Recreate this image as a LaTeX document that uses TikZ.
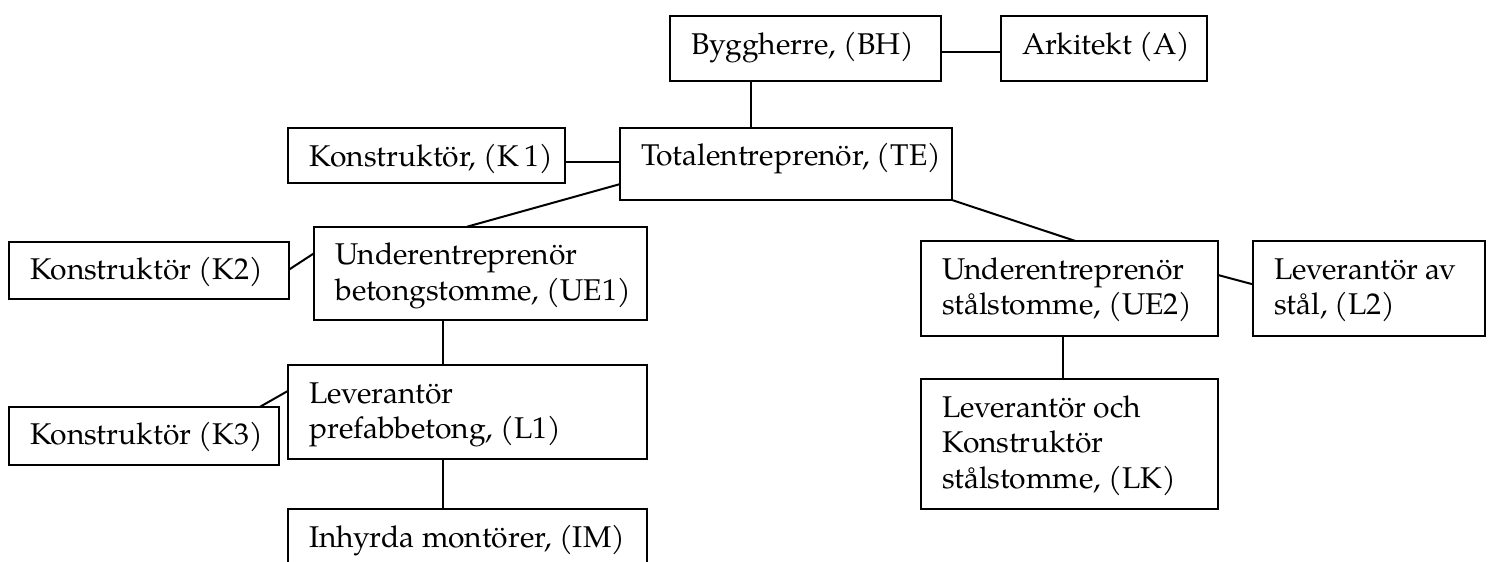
\documentclass[tikz,border=0pt]{standalone}
\usepackage{fontspec}
\setmainfont{TeX Gyre Pagella}
\usetikzlibrary{calc}
\newdimen\pxu \pxu=0.4pt
\tikzset{
  orgbox/.style={draw=black, line width=0.8pt, inner sep=0pt, outer sep=0pt,
    anchor=north west, font=\fontsize{12}{14.2}\selectfont},
  link/.style={draw=black, line width=0.8pt}
}
\newcommand\orgbox[6]{%
  \node[orgbox] (#1) at (#2,#3) {\begin{minipage}[c][#5\pxu][t]{#4\pxu}\raggedright\leftskip=21.5\pxu\rule{0pt}{38\pxu}#6\end{minipage}};}
\begin{document}
\begin{tikzpicture}[x=0.4pt, y=-0.4pt]
\clip (0,0) rectangle (1491,561);
\fill[white] (0,0) rectangle (1491,561);
\orgbox{BH}{670}{16}{271}{65}{Byggherre, (BH)}
\orgbox{A}{1000.7}{16}{206}{65}{Arkitekt (A)}
\orgbox{TE}{620}{127.7}{332}{72.3}{Totalentreprenör, (TE)}
\orgbox{K1}{288}{128.3}{277}{54.4}{Konstruktör, (K\,1)}
\orgbox{K2}{8.5}{241.7}{280}{57.6}{Konstruktör (K2)}
\orgbox{UE1}{314}{226.7}{332.7}{93.3}{Underentreprenör\\betongstomme, (UE1)}
\orgbox{L1}{287.7}{365}{359}{94}{Leverantör\\prefabbetong, (L1)}
\orgbox{K3}{8.5}{406.7}{270}{58.3}{Konstruktör (K3)}
\orgbox{IM}{287.7}{509.3}{359}{80}{Inhyrda montörer, (IM)}
\orgbox{UE2}{920.7}{241}{297.6}{94.7}{Underentreprenör\\stålstomme, (UE2)}
\orgbox{L2}{1252.7}{241}{232.3}{94.7}{Leverantör av\\stål, (L2)}
\orgbox{LK}{920.7}{379.3}{297.6}{129.7}{Leverantör och\\Konstruktör\\stålstomme, (LK)}
% connectors
\draw[link] ($(BH.north east)!0.56!(BH.south east)$) -- ($(A.north west)!0.56!(A.south west)$);
\coordinate (bhs) at ($(BH.south west)!0.298!(BH.south east)$);
\draw[link] (bhs) -- (bhs |- TE.north);
\coordinate (k1e) at ($(K1.north east)!0.614!(K1.south east)$);
\draw[link] (k1e) -- (k1e -| TE.west);
\draw[link] ($(TE.north west)!0.78!(TE.south west)$) -- ($(UE1.north west)!0.46!(UE1.north east)$);
\draw[link] (TE.south east) -- ($(UE2.north west)!0.52!(UE2.north east)$);
\draw[link] ($(K2.north east)!0.49!(K2.south east)$) -- ($(UE1.north west)!0.285!(UE1.south west)$);
\coordinate (ue1s) at ($(UE1.south west)!0.389!(UE1.south east)$);
\draw[link] (ue1s) -- (ue1s |- L1.north);
\draw[link] ($(K3.north west)!0.932!(K3.north east)$) -- ($(L1.north west)!0.277!(L1.south west)$);
\coordinate (l1s) at ($(L1.south west)!0.433!(L1.south east)$);
\draw[link] (l1s) -- (l1s |- IM.north);
\draw[link] ($(UE2.north east)!0.36!(UE2.south east)$) -- ($(L2.north west)!0.457!(L2.south west)$);
\coordinate (ue2s) at ($(UE2.south west)!0.478!(UE2.south east)$);
\draw[link] (ue2s) -- (ue2s |- LK.north);
\end{tikzpicture}
\end{document}
